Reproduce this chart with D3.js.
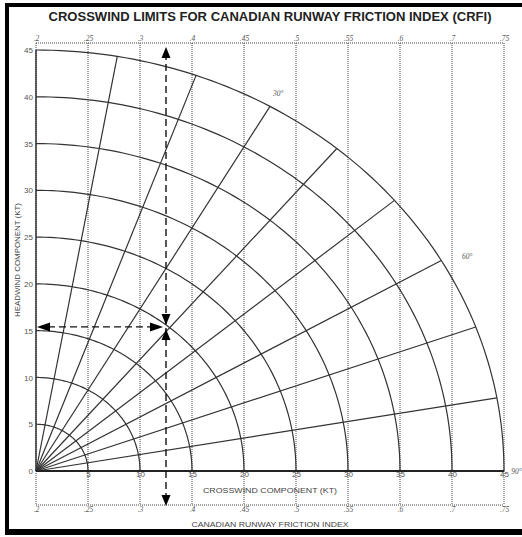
<!DOCTYPE html>
<html>
<head>
<meta charset="utf-8">
<script src="https://cdn.jsdelivr.net/npm/d3@7"></script>
<style>
body { margin: 0; background: #fff; }
text { font-family: Arial, "Liberation Sans", sans-serif; }
#chart { -webkit-font-smoothing: antialiased; }
</style>
</head>
<body>
<svg id="chart" width="522" height="537"></svg>
<script>
// chart values
var crosswindTicks = [0, 5, 10, 15, 20, 25, 30, 35, 40, 45];
var headwindTicks = [0, 5, 10, 15, 20, 25, 30, 35, 40, 45];
var crfiLabels = ['.2', '.25', '.3', '.4', '.45', '.5', '.55', '.6', '.7', '.75'];
var windRadii = [5, 10, 15, 20, 25, 30, 35, 40, 45];
var radialAngles = [0, 10, 20, 30, 40, 50, 60, 70, 80];
var angleLabels = [
    { deg: 30, r: 46.6, text: '30°' },
    { deg: 61, r: 47.4, text: '60°' },
    { deg: 90, r: 46.2, text: '90°' }
];
var examplePoint = { crosswind: 12.5, headwind: 15.4 };

var svg = d3.select('#chart');

var x = d3.scaleLinear().domain([0, 45]).range([36, 504]);
var y = d3.scaleLinear().domain([0, 45]).range([471, 50]);

var topScaleY = 43, bottomScaleY = 505;
var toRad = Math.PI / 180;

// frame
svg.append('rect')
    .attr('x', 7).attr('y', 5)
    .attr('width', 530).attr('height', 526)
    .attr('fill', 'none')
    .attr('stroke', '#000')
    .attr('stroke-width', 4);
svg.append('rect')
    .attr('x', 5).attr('y', 529)
    .attr('width', 517).attr('height', 6)
    .attr('fill', '#000');

// title
svg.append('text')
    .attr('x', 270).attr('y', 21)
    .attr('text-anchor', 'middle')
    .attr('font-size', 12.5)
    .attr('font-weight', 'bold')
    .attr('fill', '#222')
    .attr('textLength', 443)
    .attr('lengthAdjust', 'spacingAndGlyphs')
    .text('CROSSWIND LIMITS FOR CANADIAN RUNWAY FRICTION INDEX (CRFI)');

// dotted CRFI grid
var grid = svg.append('g')
    .attr('stroke', '#444')
    .attr('stroke-width', 1)
    .attr('stroke-dasharray', '1,1')
    .attr('fill', 'none');

grid.selectAll('line.v')
    .data(crosswindTicks)
    .enter().append('line')
    .attr('class', 'v')
    .attr('x1', function(d) { return x(d); })
    .attr('x2', function(d) { return x(d); })
    .attr('y1', topScaleY)
    .attr('y2', bottomScaleY);

grid.selectAll('line.h')
    .data([topScaleY, bottomScaleY])
    .enter().append('line')
    .attr('class', 'h')
    .attr('x1', x(0)).attr('x2', x(45))
    .attr('y1', function(d) { return d; })
    .attr('y2', function(d) { return d; });

// wind speed arcs
var arcLine = d3.line()
    .x(function(d) { return x(d[0]); })
    .y(function(d) { return y(d[1]); });

var arcSteps = d3.range(0, 90.5, 1);

svg.append('g')
    .selectAll('path')
    .data(windRadii)
    .enter().append('path')
    .attr('d', function(r) {
        return arcLine(arcSteps.map(function(a) {
            return [r * Math.sin(a * toRad), r * Math.cos(a * toRad)];
        }));
    })
    .attr('fill', 'none')
    .attr('stroke', '#333')
    .attr('stroke-width', 1.2);

// wind direction radials
svg.append('g')
    .selectAll('line')
    .data(radialAngles)
    .enter().append('line')
    .attr('x1', x(0)).attr('y1', y(0))
    .attr('x2', function(a) { return x(45 * Math.sin(a * toRad)); })
    .attr('y2', function(a) { return y(45 * Math.cos(a * toRad)); })
    .attr('stroke', '#333')
    .attr('stroke-width', function(a) { return a === 0 ? 1.5 : 1.2; });

// crosswind baseline
svg.append('line')
    .attr('x1', x(0)).attr('x2', x(45))
    .attr('y1', y(0)).attr('y2', y(0))
    .attr('stroke', '#222')
    .attr('stroke-width', 2);

// axes (labels only)
function styleAxis(g, size, italic) {
    g.select('.domain').remove();
    g.selectAll('text')
        .attr('font-size', size)
        .attr('fill', '#555')
        .style('font-style', italic ? 'italic' : 'normal')
        .style('font-family', italic ? '"Liberation Serif", "DejaVu Serif", serif' : null);
}

svg.append('g')
    .attr('transform', 'translate(0,' + y(0) + ')')
    .call(d3.axisBottom(x).tickValues(crosswindTicks.slice(1)).tickSize(0).tickPadding(0))
    .call(function(g) { styleAxis(g, 8, false); });

svg.append('g')
    .attr('transform', 'translate(' + x(0) + ',0)')
    .call(d3.axisLeft(y).tickValues(headwindTicks).tickSize(0).tickPadding(3))
    .call(function(g) { styleAxis(g, 8, false); });

var crfiFormat = function(d, i) { return crfiLabels[i]; };

svg.append('g')
    .attr('transform', 'translate(0,' + (topScaleY - 2) + ')')
    .call(d3.axisTop(x).tickValues(crosswindTicks).tickSize(0).tickPadding(0).tickFormat(crfiFormat))
    .call(function(g) { styleAxis(g, 7.5, true); });

svg.append('g')
    .attr('transform', 'translate(0,' + (bottomScaleY + 2) + ')')
    .call(d3.axisBottom(x).tickValues(crosswindTicks).tickSize(0).tickPadding(0).tickFormat(crfiFormat))
    .call(function(g) { styleAxis(g, 7.5, true); });

// angle labels
svg.append('g')
    .selectAll('text')
    .data(angleLabels)
    .enter().append('text')
    .attr('x', function(d) { return x(d.r * Math.sin(d.deg * toRad)); })
    .attr('y', function(d) { return y(d.r * Math.cos(d.deg * toRad)) + 3; })
    .attr('text-anchor', 'middle')
    .attr('font-size', 7.5)
    .attr('font-style', 'italic')
    .style('font-family', '"Liberation Serif", "DejaVu Serif", serif')
    .attr('fill', '#555')
    .text(function(d) { return d.text; });

// axis titles
svg.append('text')
    .attr('x', 270).attr('y', 493)
    .attr('text-anchor', 'middle')
    .attr('font-size', 8)
    .attr('fill', '#444')
    .attr('textLength', 134)
    .attr('lengthAdjust', 'spacingAndGlyphs')
    .text('CROSSWIND COMPONENT (KT)');

svg.append('text')
    .attr('x', 270).attr('y', 527)
    .attr('text-anchor', 'middle')
    .attr('font-size', 8)
    .attr('fill', '#444')
    .attr('textLength', 157)
    .attr('lengthAdjust', 'spacingAndGlyphs')
    .text('CANADIAN RUNWAY FRICTION INDEX');

svg.append('text')
    .attr('transform', 'translate(20,260) rotate(-90)')
    .attr('text-anchor', 'middle')
    .attr('font-size', 8)
    .attr('fill', '#444')
    .attr('textLength', 114)
    .attr('lengthAdjust', 'spacingAndGlyphs')
    .text('HEADWIND COMPONENT (KT)');

// example reading arrows
var px = x(examplePoint.crosswind), py = y(examplePoint.headwind);
var arrows = svg.append('g');

arrows.append('line')
    .attr('x1', px).attr('x2', px)
    .attr('y1', topScaleY + 10).attr('y2', bottomScaleY - 8)
    .attr('stroke', '#111')
    .attr('stroke-width', 1.4)
    .attr('stroke-dasharray', '7,4');

arrows.append('line')
    .attr('x1', x(0) + 12).attr('x2', px - 10)
    .attr('y1', py).attr('y2', py)
    .attr('stroke', '#111')
    .attr('stroke-width', 1.4)
    .attr('stroke-dasharray', '7,4');

// arrowheads: tip position and direction
var heads = [
    { tx: px, ty: topScaleY + 4, dir: 'up' },
    { tx: px, ty: bottomScaleY + 1, dir: 'down' },
    { tx: px, ty: py - 2, dir: 'down' },
    { tx: px, ty: py + 2, dir: 'up' },
    { tx: x(0) + 1, ty: py, dir: 'left' },
    { tx: px - 3, ty: py, dir: 'right' }
];

arrows.selectAll('path.head')
    .data(heads)
    .enter().append('path')
    .attr('class', 'head')
    .attr('d', function(h) {
        var L = 11, W = 4.5;
        if (h.dir === 'up') return 'M' + h.tx + ',' + h.ty + 'L' + (h.tx - W) + ',' + (h.ty + L) + 'L' + (h.tx + W) + ',' + (h.ty + L) + 'Z';
        if (h.dir === 'down') return 'M' + h.tx + ',' + h.ty + 'L' + (h.tx - W) + ',' + (h.ty - L) + 'L' + (h.tx + W) + ',' + (h.ty - L) + 'Z';
        if (h.dir === 'left') return 'M' + h.tx + ',' + h.ty + 'L' + (h.tx + L + 2) + ',' + (h.ty - W) + 'L' + (h.tx + L + 2) + ',' + (h.ty + W) + 'Z';
        return 'M' + h.tx + ',' + h.ty + 'L' + (h.tx - L - 2) + ',' + (h.ty - W) + 'L' + (h.tx - L - 2) + ',' + (h.ty + W) + 'Z';
    })
    .attr('fill', '#000');
</script>
</body>
</html>
